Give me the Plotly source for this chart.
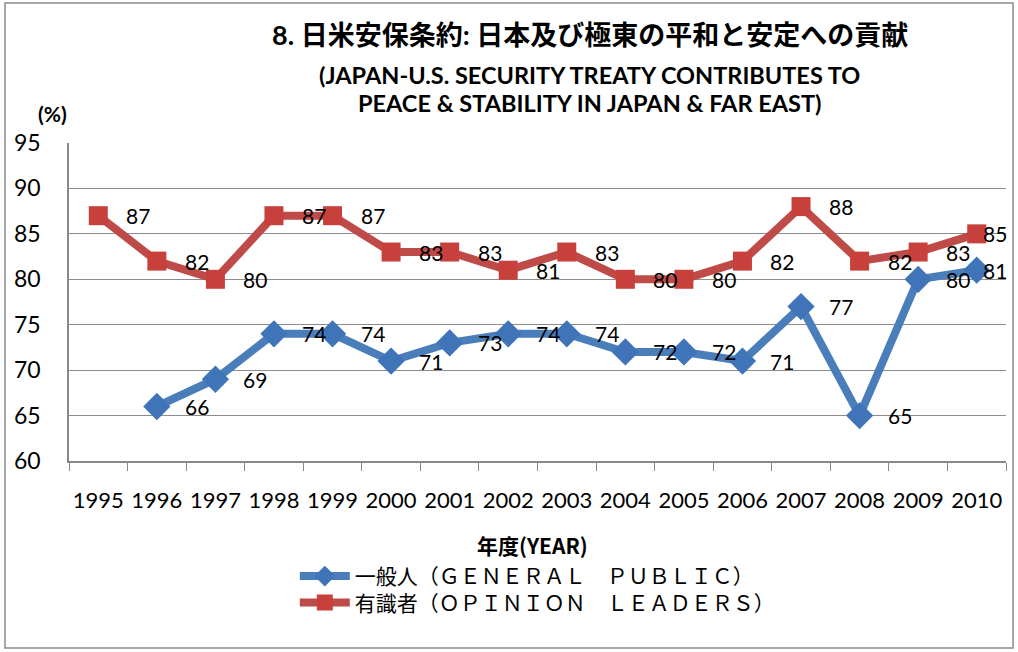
import plotly.graph_objects as go

# 年度ごとのデータ
years = [str(y) for y in range(1995, 2011)]
general_public = [None, 66, 69, 74, 74, 71, 73, 74, 74, 72, 72, 71, 77, 65, 80, 81]
opinion_leaders = [87, 82, 80, 87, 87, 83, 83, 81, 83, 80, 80, 82, 88, 82, 83, 85]
y_ticks = [60, 65, 70, 75, 80, 85, 90, 95]

name_gp = "一般人（ＧＥＮＥＲＡＬ　ＰＵＢＬＩＣ）"
name_ol = "有識者（ＯＰＩＮＩＯＮ　ＬＥＡＤＥＲＳ）"

FONT = "Lato, 'Noto Sans CJK JP', sans-serif"
JP = "'Noto Sans CJK JP', sans-serif"

fig = go.Figure()
fig.add_trace(go.Scatter(x=years, y=general_public, name=name_gp, mode="lines+markers",
                         line=dict(color="#4A7EBB", width=8), legend="legend",
                         marker=dict(symbol="diamond", size=21, color="#3F74B8")))
fig.add_trace(go.Scatter(x=years, y=opinion_leaders, name=name_ol, mode="lines+markers",
                         line=dict(color="#BE4B48", width=8), legend="legend2",
                         marker=dict(symbol="square", size=19, color="#C8403C")))

# データラベル (カテゴリ軸なので位置はインデックスで指定)
for series in [general_public, opinion_leaders]:
    for i, v in enumerate(series):
        if v is None:
            continue
        shift = 18 if i == len(years) - 1 else 40
        fig.add_annotation(x=i, y=v, text=str(v), showarrow=False,
                           xshift=shift, font=dict(size=21, color="black", family=FONT))

# タイトル
title_lines = [("<b>8. 日米安保条約: 日本及び極東の平和と安定への貢献</b>", 1.342, 27),
               ("<b>(JAPAN-U.S. SECURITY TREATY CONTRIBUTES TO</b>", 1.214, 23.5),
               ("<b>PEACE &amp; STABILITY IN JAPAN &amp; FAR EAST)</b>", 1.126, 23.5)]
for txt, yy, sz in title_lines:
    fig.add_annotation(text=txt, xref="paper", yref="paper", x=0.556, y=yy,
                       xanchor="center", yanchor="middle", showarrow=False,
                       font=dict(size=sz, color="black", family=FONT))

fig.add_annotation(text="<b>(%)</b>", xref="paper", yref="paper", x=-0.018, y=1.094,
                   xanchor="center", yanchor="middle",
                   showarrow=False, font=dict(size=21, color="black", family=FONT))
fig.add_annotation(text="<b>年度(YEAR)</b>", xref="paper", yref="paper", x=0.495, y=-0.264,
                   xanchor="center", yanchor="middle",
                   showarrow=False, font=dict(size=21, color="black", family=JP))

# 外枠
fig.add_shape(type="rect", xref="paper", yref="paper", x0=-0.0683, x1=1.0075,
              y0=-0.588, y1=1.44, line=dict(color="#8C8C8C", width=1.5))

fig.update_xaxes(type="category", range=[-0.5, 15.5], tickson="boundaries",
                 ticks="outside", ticklen=8, tickangle=0,
                 tickcolor="#888", showline=True, linecolor="#888", linewidth=1.5,
                 showgrid=False, ticklabelstandoff=19,
                 tickfont=dict(size=22, color="black", family=FONT))
fig.update_yaxes(range=[60, 95], tickvals=y_ticks, showline=True, linecolor="#888",
                 linewidth=1.5, gridcolor="#8C8C8C", gridwidth=1, zeroline=False,
                 ticklabelstandoff=22, tickfont=dict(size=23, color="black", family=FONT))

legend_style = dict(x=0.241, xanchor="left", yanchor="middle", itemwidth=50,
                    font=dict(size=21, color="black", family=JP),
                    bgcolor="rgba(0,0,0,0)")
fig.update_layout(width=1018, height=652, plot_bgcolor="white", paper_bgcolor="white",
                  showlegend=True,
                  margin=dict(l=69, r=12, t=143, b=191, autoexpand=False),
                  legend=dict(y=-0.363, **legend_style),
                  legend2=dict(y=-0.446, **legend_style))

fig.write_html("out.html", config={"displayModeBar": False},
               post_script="document.body.style.margin='0';")
